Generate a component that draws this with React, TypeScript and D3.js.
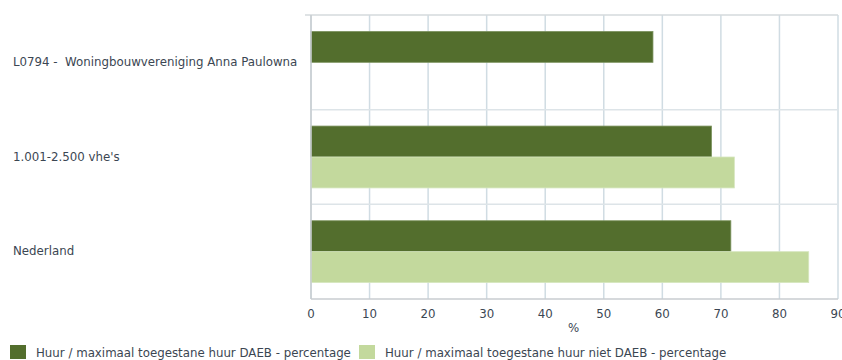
import React, { useRef, useEffect } from "react";
import * as d3 from "d3";

const categories = ["L0794 -  Woningbouwvereniging Anna Paulowna", "1.001-2.500 vhe's", "Nederland"];
const seriesNames = [
  "Huur / maximaal toegestane huur DAEB - percentage",
  "Huur / maximaal toegestane huur niet DAEB - percentage",
];
const daeb: (number | null)[] = [58.4, 68.4, 71.7];
const nietDaeb: (number | null)[] = [null, 72.3, 85.0];
const xTicks = [0, 10, 20, 30, 40, 50, 60, 70, 80, 90];
const colors = ["#536e2d", "#c3d99d"];

const App = () => {
  const svgRef = useRef<SVGSVGElement>(null);
  const width = 842;
  const height = 360;

  useEffect(() => {
    const svg = d3.select(svgRef.current);
    svg.selectAll("*").remove();
    const font = "DejaVu Sans, Verdana, sans-serif";
    const fontSize = "11.8px";
    const textColor = "#3b4652";
    const left = 311, right = 838, top = 15, bottom = 299;

    const x = d3.scaleLinear().domain([0, 90]).range([left, right]);
    const y = d3.scaleBand().domain(categories).range([top, bottom]);
    const inner = d3.scaleBand().domain(["0", "1"]).range([0, y.bandwidth()]).paddingOuter(0.53).paddingInner(0);

    // vertical grid
    svg.append("g").selectAll("line").data(xTicks).join("line")
      .attr("x1", d => x(d)).attr("x2", d => x(d))
      .attr("y1", top).attr("y2", bottom)
      .attr("stroke", "#d0dce3").attr("stroke-width", 1.5);

    // horizontal category separators
    svg.append("g").selectAll("line").data(categories.slice(1)).join("line")
      .attr("x1", left).attr("x2", right)
      .attr("y1", d => y(d)!).attr("y2", d => y(d)!)
      .attr("stroke", "#dde4e8").attr("stroke-width", 1.5);

    svg.append("line").attr("x1", left - 6).attr("x2", right).attr("y1", top).attr("y2", top)
      .attr("stroke", "#d5dadd").attr("stroke-width", 1.5);

    // bars
    const series = [daeb, nietDaeb];
    series.forEach((vals, si) => {
      svg.append("g").selectAll("rect")
        .data(vals.map((v, i) => ({ v, c: categories[i] })).filter(d => d.v !== null))
        .join("rect")
        .attr("x", x(0))
        .attr("y", d => y(d.c)! + inner(String(si))!)
        .attr("width", d => x(d.v as number) - x(0))
        .attr("height", inner.bandwidth())
        .attr("fill", colors[si])
        .attr("stroke", si === 0 ? "#7d9460" : "#d6e6bf")
        .attr("stroke-width", 0.8);
    });

    // axes lines
    svg.append("line").attr("x1", left).attr("x2", left).attr("y1", top).attr("y2", bottom)
      .attr("stroke", "#c8cdd0").attr("stroke-width", 1.5);
    svg.append("line").attr("x1", left).attr("x2", right).attr("y1", bottom).attr("y2", bottom)
      .attr("stroke", "#c8cdd0").attr("stroke-width", 1.5);

    // x tick labels
    svg.append("g").selectAll("text").data(xTicks).join("text")
      .attr("x", d => x(d)).attr("y", 318)
      .attr("text-anchor", "middle")
      .attr("font-family", font).attr("font-size", fontSize).attr("fill", textColor)
      .text(d => d);
    svg.append("text").attr("x", (left + right) / 2 - 1).attr("y", 332)
      .attr("text-anchor", "middle")
      .attr("font-family", font).attr("font-size", fontSize).attr("fill", textColor)
      .text("%");

    // category labels
    svg.append("g").selectAll("text").data(categories).join("text")
      .attr("x", 13).attr("y", d => y(d)! + y.bandwidth() / 2 + 3.5)
      .attr("font-family", font).attr("font-size", fontSize).attr("fill", textColor)
      .attr("xml:space", "preserve")
      .style("white-space", "pre")
      .text(d => d);

    // legend
    const legendX = [10, 359];
    seriesNames.forEach((name, i) => {
      svg.append("rect").attr("x", legendX[i]).attr("y", 345).attr("width", 16).attr("height", 14)
        .attr("fill", colors[i]);
      svg.append("text").attr("x", legendX[i] + 26).attr("y", 357)
        .attr("font-family", font).attr("font-size", fontSize).attr("fill", textColor)
        .text(name);
    });
  }, []);

  return (
    <div style={{ position: "absolute", left: 0, top: 0 }}>
      <svg ref={svgRef} width={width} height={height} style={{ display: "block", background: "#fff" }} />
    </div>
  );
};

export default App;
